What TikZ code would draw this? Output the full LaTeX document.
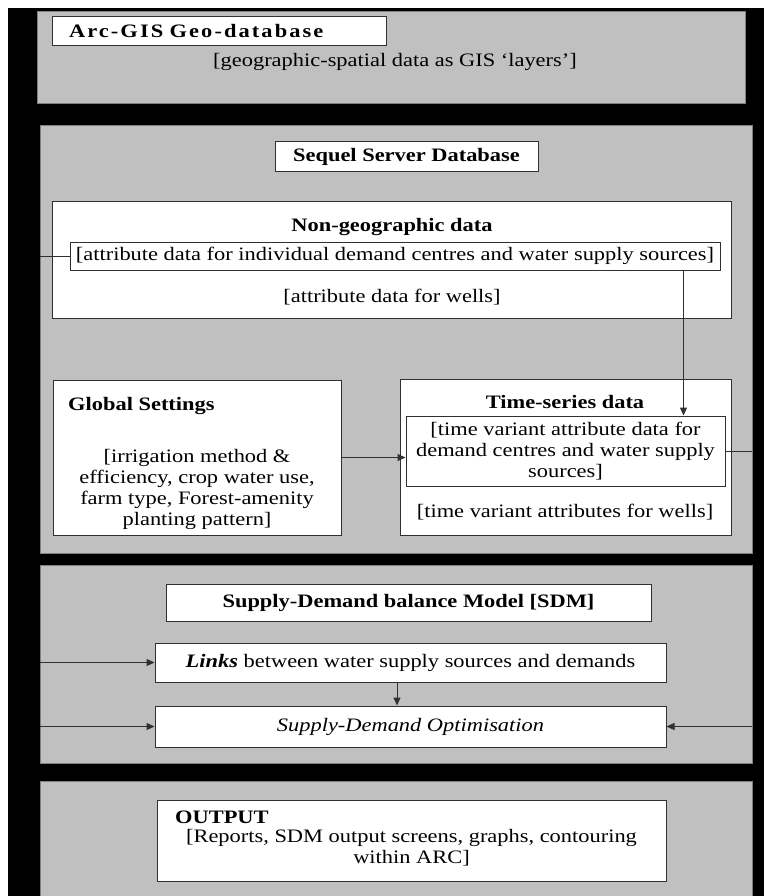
\documentclass[tikz,border=0pt]{standalone}
\usepackage{fontspec}
\setmainfont{Liberation Serif}[FakeStretch=1.18]
\usetikzlibrary{calc,arrows.meta}
\definecolor{panelgray}{HTML}{C0C0C0}
\definecolor{edgegray}{HTML}{7F7F7F}
\definecolor{boxline}{HTML}{303030}
\tikzset{
	every node/.style={font=\fontsize{19}{21}\selectfont},
	panel/.style={fill=panelgray, draw=edgegray, line width=0.8pt},
	box/.style={draw=boxline, fill=white, line width=1pt, inner sep=0pt},
	txt/.style={inner sep=0pt, align=center},
	link/.style={draw=boxline, line width=1pt},
	arr/.style={link, -{Triangle[length=8pt,width=7pt]}},
}

\begin{document}
\begin{tikzpicture}[x=1pt,y=-1pt]
		\useasboundingbox (0,0) rectangle (764,896);
		\fill[black] (8,8) rectangle (764,896);
		
		\filldraw[panel] (37,11) rectangle (745,103);
		\filldraw[panel] (40,125) rectangle (752,553);
		\filldraw[panel] (40,565) rectangle (752,763);
		\filldraw[panel] (40,781) rectangle (752,900);
		
		\node (arcgis) at (219,31.5) [box, minimum width=334pt, minimum height=29pt, text width=300pt, align=left] {\bfseries\addfontfeature{LetterSpace=11}Arc-GIS Geo-database};
		\node (geotext) at (395,62) [txt] {[geographic-spatial data as GIS ‘layers’]};
		
		\node (sequel) at (406.5,157) [box, minimum width=263pt, minimum height=30pt] {\bfseries Sequel Server Database};
		
		\node (nongeo) at (391.5,259.5) [box, minimum width=679pt, minimum height=117pt] {};
		\node (nongeotitle) at (392,227) [txt] {\bfseries Non-geographic data};
		\node (attrib) at (395,256) [box, minimum width=650pt, minimum height=28pt] {[attribute data for individual demand centres and water supply sources]};
		\node (wells) at (392,297) [txt] {[attribute data for wells]};
		
		\node (global) at (197,457.5) [box, minimum width=288pt, minimum height=155pt] {};
		\node (globaltitle) at (68,406) [txt, anchor=west] {\bfseries Global Settings};
		\node (globaltext) at (197,489) [txt] {[irrigation method \&\\efficiency, crop water use,\\farm type, Forest-amenity\\planting pattern]};
		
		\node (ts) at (565.5,457) [box, minimum width=331pt, minimum height=156pt] {};
		\node (tstitle) at (565,402) [txt] {\bfseries Time-series data};
		\node (tsinner) at (565.5,451) [box, minimum width=319pt, minimum height=70pt, align=center] {[time variant attribute data for\\demand centres and water supply\\sources]};
		\node (tswells) at (565,512) [txt] {[time variant attributes for wells]};
		
		\coordinate (leftin) at (40,256);
		\coordinate (drop) at ([xshift=-37pt]attrib.south east);
		\coordinate (rightout) at (752,451);
		\draw[link] (leftin) -- (attrib.west);
		\draw[arr] (drop) -- (drop |- tsinner.north);
		\draw[arr] (global.east) -- (global.east -| tsinner.west);
		\draw[link] (tsinner.east) -- (rightout);
		
		\node (sdm) at (408.5,602.5) [box, minimum width=485pt, minimum height=37pt] {\bfseries Supply-Demand balance Model [SDM]};
		\node (links) at (410.5,662.5) [box, minimum width=511pt, minimum height=39pt] {\textbf{\textit{Links}} between water supply sources and demands};
		\node (optim) at (410.5,726.5) [box, minimum width=511pt, minimum height=41pt] {\textit{Supply-Demand Optimisation}};
		
		\coordinate (linksin) at (40,662.5);
		\coordinate (optimin) at (40,726.5);
		\coordinate (optimright) at (752,726.5);
		\coordinate (linksdrop) at ([xshift=-13.5pt]links.south);
		\draw[arr] (linksin) -- (links.west);
		\draw[arr] (optimin) -- (optim.west);
		\draw[arr] (optimright) -- (optim.east);
		\draw[arr] (linksdrop) -- (linksdrop |- optim.north);
		
		\node (output) at (411.5,840.5) [box, minimum width=509pt, minimum height=81pt] {};
		\node (outtitle) at (175,817) [txt, anchor=west] {\bfseries OUTPUT};
		\node (outtext) at (411.5,848) [txt] {[Reports, SDM output screens, graphs, contouring\\within ARC]};
	\end{tikzpicture}
\end{document}
